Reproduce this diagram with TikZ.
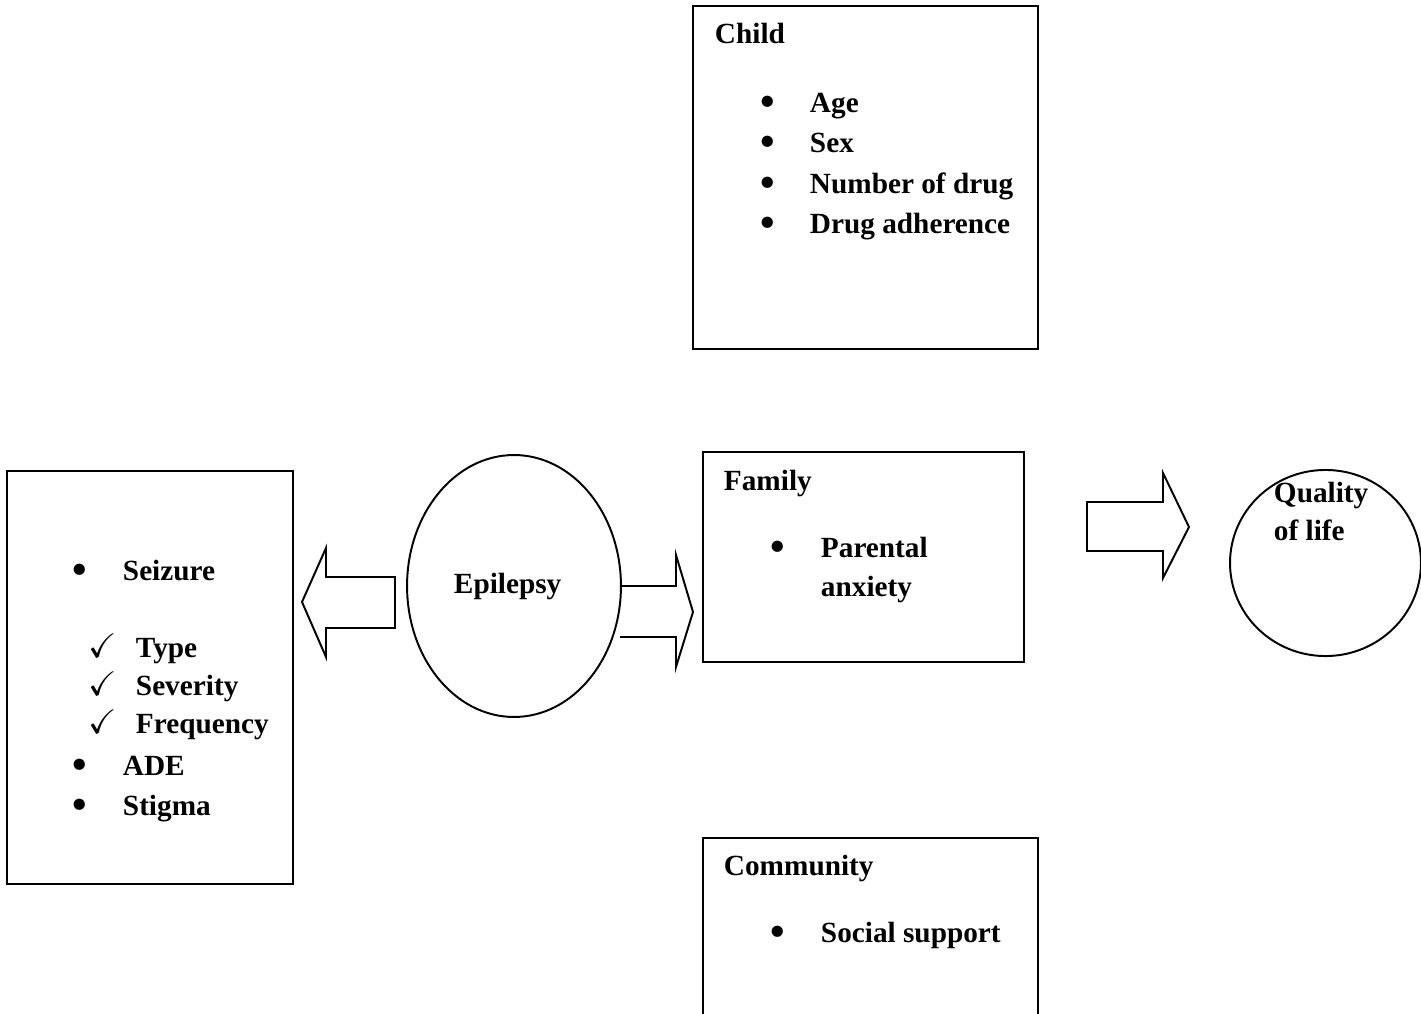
\documentclass[tikz,border=0pt]{standalone}
\usepackage{fontspec}
\usepackage{amssymb}
\setmainfont{Liberation Serif}
\usetikzlibrary{shapes.geometric,fit}

\newcommand{\bigdot}{{\fontsize{17}{17}\selectfont\textbullet}}
\newcommand{\tick}{{\fontsize{14}{14}\selectfont$\checkmark$}}

\begin{document}
\begin{tikzpicture}[x=0.41pt,y=-0.41pt,line width=0.8pt,
    box/.style={draw,rectangle,inner sep=0pt},
    blob/.style={draw,ellipse,inner sep=0pt},
    txt/.style={anchor=base west,inner sep=0pt,font=\fontsize{12}{14}\selectfont\bfseries},
    dot/.style={txt,yshift=-1.6pt},
    fatarrow/.style={draw,line join=miter}]

  \clip (0,0) rectangle (1421,1014);

  % boxes and circles
  \node[box,fit={(693,6) (1038,349)}] (child) {};
  \node[box,fit={(7,471) (293,884)}] (seizure) {};
  \node[box,fit={(703,452) (1024,662)}] (family) {};
  \node[box,fit={(703,838) (1038,1030)}] (community) {};
  \node[blob,minimum width=87.7pt,minimum height=107.4pt] (epilepsy) at (514,586) {};
  \node[blob,minimum width=78.3pt,minimum height=76.3pt] (qol) at (1325.5,563) {};

  % child
  \node[txt] (childhead) at (714,43) {Child};
  \foreach \y/\t [count=\i] in {112/Age,152/Sex,193/Number of drug,233/Drug adherence} {
    \node[dot] (cb\i) at (760,\y) {\bigdot};
    \node[txt] (ct\i) at (809,\y) {\t};
  }

  % seizure
  \node[dot] (sb1) at (72,580) {\bigdot};
  \node[txt] (st1) at (122,580) {Seizure};
  \foreach \y/\t [count=\i] in {657/Type,695/Severity,733/Frequency} {
    \node[txt] (sc\i) at (88,\y) {\tick};
    \node[txt] (sk\i) at (135,\y) {\t};
  }
  \node[dot] (sb2) at (72,775) {\bigdot};
  \node[txt] (st2) at (122,775) {ADE};
  \node[dot] (sb3) at (72,815) {\bigdot};
  \node[txt] (st3) at (122,815) {Stigma};

  % family
  \node[txt] (famhead) at (723,490) {Family};
  \node[dot] (fb) at (770,557) {\bigdot};
  \node[txt] (ft1) at (820,557) {Parental};
  \node[txt] (ft2) at (820,596) {anxiety};

  % community
  \node[txt] (comhead) at (723,875) {Community};
  \node[dot] (mb) at (770,942) {\bigdot};
  \node[txt] (mt) at (820,942) {Social support};

  % circles text
  \node[txt] (eptext) at (453,593) {Epilepsy};
  \node[txt] (q1) at (1273,502) {Quality};
  \node[txt] (q2) at (1273,540) {of life};

  % block arrows
  \draw[fatarrow] (395,577) -- (326,577) -- (326,548) -- (302,602) -- (326,657)
    -- (326,628) -- (395,628) -- cycle;
  \draw[fatarrow] (620,586) -- (676,586) -- (676,555) -- (693,612) -- (676,667)
    -- (676,637) -- (620,637);
  \draw[fatarrow] (1087,502) -- (1163,502) -- (1163,473) -- (1189,527) -- (1163,578)
    -- (1163,551) -- (1087,551) -- cycle;
\end{tikzpicture}
\end{document}
